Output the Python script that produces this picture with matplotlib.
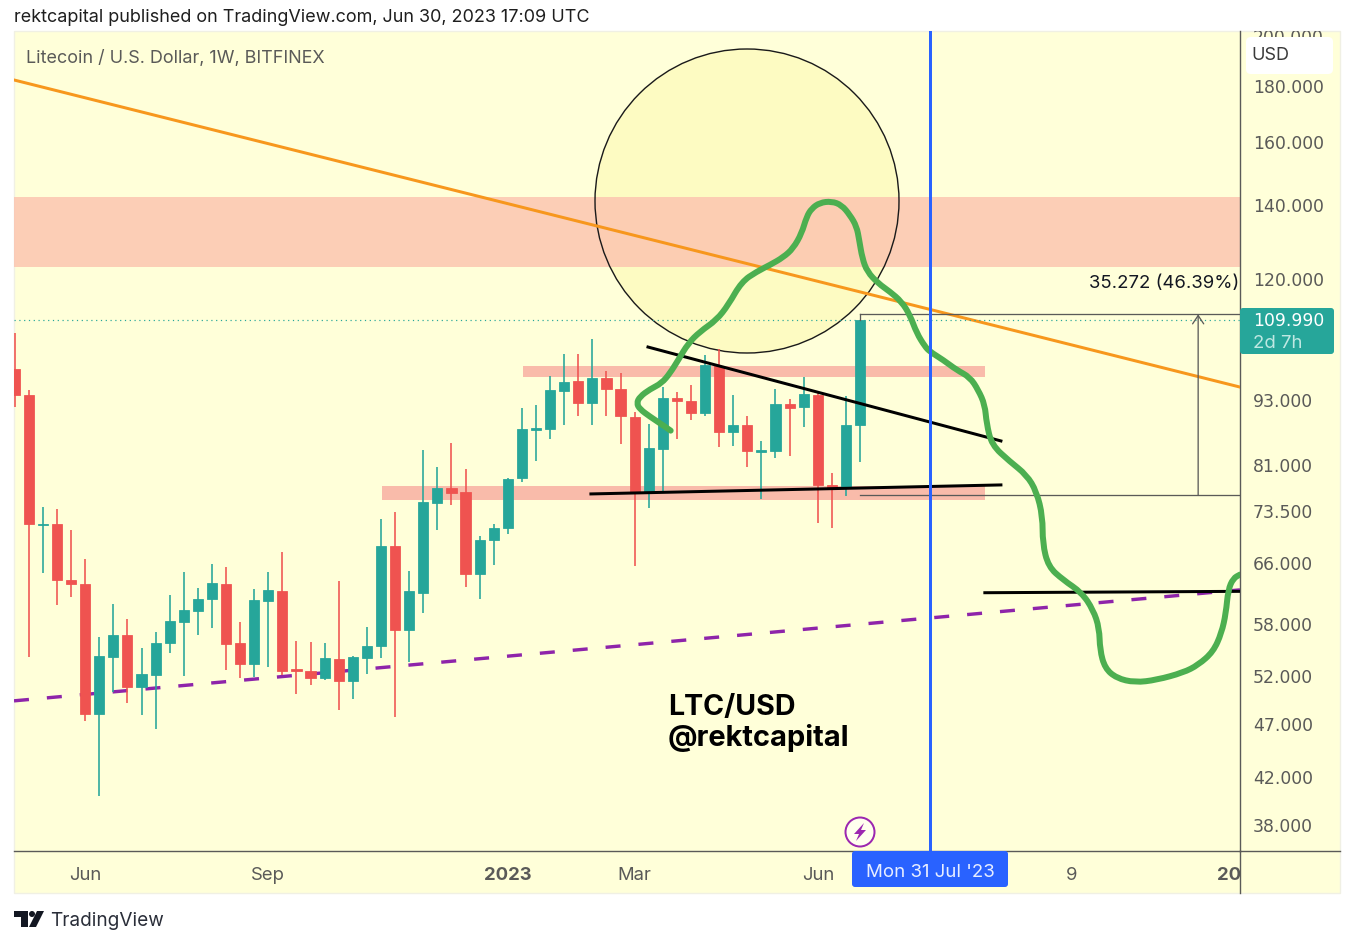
import matplotlib
matplotlib.use("Agg")
import matplotlib.pyplot as plt
from matplotlib.patches import Circle, FancyBboxPatch, PathPatch, Polygon, Rectangle
from matplotlib.path import Path
from matplotlib.ticker import NullFormatter, NullLocator
from matplotlib.transforms import Bbox

plt.rcParams['font.family'] = ['Inter', 'DejaVu Sans']

# weekly candles, index = week number on the chart
opens = [99.2, 93.9, 71.45, 71.55, 63.6, 63.1, 47.95, 54.15, 56.68, 50.8,
         52.1, 55.7, 58.28, 59.6, 61.1, 63.1, 55.7, 53.32, 60.88, 62.14,
         52.73, 52.57, 51.74, 53.9, 51.44, 54.0, 55.35, 68.35, 57.28, 61.96,
         74.88, 77.18, 76.6, 64.48, 69.18, 70.95, 78.82, 87.31, 87.44, 94.66,
         96.73, 92.42, 97.35, 95.18, 89.74, 76.48, 83.9, 93.34, 92.81, 90.38,
         99.9, 86.84, 88.19, 83.37, 83.49, 92.17, 91.53, 93.98, 77.77, 77.28,
         88.14]
highs = [107.1, 94.9, 74.25, 73.9, 70.7, 66.5, 56.4, 60.5, 58.6, 55.15,
         57.0, 61.65, 64.68, 62.57, 65.8, 65.4, 58.28, 62.4, 64.76, 67.45,
         56.0, 55.84, 55.76, 63.54, 54.2, 57.64, 72.3, 73.38, 64.85, 83.66,
         80.72, 84.9, 80.33, 69.8, 71.6, 78.82, 91.33, 91.97, 97.74, 102.4,
         102.34, 105.6, 98.79, 98.3, 90.63, 88.3, 95.58, 94.46, 95.87, 102.18,
         103.4, 93.98, 89.87, 85.26, 95.06, 93.15, 97.5, 94.58, 79.75, 93.79,
         110.0]
lows = [91.65, 54.1, 64.6, 60.37, 61.36, 47.3, 40.4, 50.3, 49.15, 47.85,
        46.47, 54.6, 51.98, 56.72, 57.52, 52.65, 51.77, 51.9, 52.95, 52.1,
        50.06, 51.0, 51.55, 48.4, 49.53, 52.18, 54.0, 47.72, 53.5, 59.33,
        70.7, 74.52, 62.67, 61.18, 65.68, 70.15, 78.2, 81.75, 85.68, 88.24,
        89.87, 88.24, 89.87, 84.78, 65.54, 74.1, 76.75, 85.62, 89.06, 89.87,
        84.25, 84.37, 80.77, 75.41, 82.32, 82.66, 87.87, 71.8, 71.04, 75.95,
        81.63]
closes = [93.9, 71.55, 71.6, 63.6, 63.07, 48.0, 54.26, 56.68, 50.83, 52.18,
          55.76, 58.37, 59.74, 61.1, 63.23, 55.6, 53.32, 60.97, 62.27, 52.57,
          52.5, 51.77, 54.0, 51.44, 54.1, 55.38, 68.35, 57.28, 62.14, 74.98,
          77.18, 76.43, 64.4, 69.22, 71.0, 78.65, 87.39, 87.62, 94.92, 96.53,
          92.42, 97.35, 95.12, 89.81, 76.48, 83.96, 93.34, 92.7, 90.5, 100.05,
          86.84, 88.19, 83.49, 83.6, 92.17, 91.4, 94.13, 77.77, 77.28, 88.14,
          109.99]

# hand drawn projection
path_week = [46.56, 45.8, 45.09, 44.38, 44.14, 44.38, 45.09, 45.92, 46.51, 47.1,
             47.81, 48.64, 49.82, 50.65, 51.6, 52.66, 53.61, 54.55, 55.26, 55.86,
             56.21, 56.57, 57.15, 57.98, 58.69, 59.28, 59.76, 59.94, 60.16, 60.51,
             61.29, 62.12, 62.95, 63.54, 64.02, 64.61, 64.96, 65.9, 66.86, 67.8,
             68.39, 68.86, 68.98, 69.34, 70.64, 71.82, 72.53, 72.96, 72.96, 73.36,
             74.42, 75.73, 76.55, 76.98, 77.03, 77.38, 78.21, 79.51, 81.05, 82.94,
             84.0, 85.07, 85.66, 85.97, 86.13, 86.49, 86.97]
path_price = [87.13, 88.5, 89.74, 91.14, 92.3, 93.6, 95.06, 96.28, 98.32, 101.11,
              104.72, 107.32, 109.99, 113.52, 119.2, 121.75, 123.5, 125.5, 127.9, 132.0,
              136.7, 139.1, 140.8, 141.2, 140.1, 137.2, 133.9, 130.16, 125.25, 121.75,
              118.8, 116.75, 114.3, 111.15, 107.0, 104.0, 102.9, 101.11, 99.0, 97.5,
              94.92, 91.98, 88.5, 84.55, 81.63, 79.37, 76.63, 72.7, 68.74, 65.44,
              63.63, 61.96, 59.74, 57.48, 54.91, 52.84, 51.74, 51.27, 51.55, 52.35,
              53.2, 54.7, 56.9, 59.33, 62.31, 63.85, 64.35]

# trend lines, (week, week), (price, price)
orange_week, orange_price = [-0.05, 86.97], [182.3, 95.5]
purple_week, purple_price = [-0.05, 86.97], [49.33, 62.31]
wedge_top_week, wedge_top_price = [44.95, 70.0], [103.9, 85.26]
wedge_low_week, wedge_low_price = [40.9, 70.0], [76.26, 77.72]
target_week, target_price = [68.86, 86.97], [61.94, 62.12]

# zones: week from, week to, price low, price high
big_zone = [-0.05, 86.97, 122.96, 142.5]
upper_zone = [36.07, 68.9, 97.5, 99.84]
lower_zone = [26.1, 68.9, 75.25, 77.55]

last_price = 109.99
measure_from, measure_to = 76.03, 111.3
measure_start, measure_end, measure_arrow = 60, 86.97, 84
cursor_week = 65

price_ticks = [200, 180, 160, 140, 120, 93, 81, 73.5, 66, 58, 52, 47, 42, 38]
price_labels = ['200.000', '180.000', '160.000', '140.000', '120.000', '93.000', '81.000',
                '73.500', '66.000', '58.000', '52.000', '47.000', '42.000', '38.000']
week_ticks = [5, 18, 35, 44, 57, 75, 86.2]
week_labels = ['Jun', 'Sep', '2023', 'Mar', 'Jun', '9', '20']

W, H = 1368, 946
BG = '#FFFFD9'
GREY = '#5A5A58'
UP = '#26A69A'
DOWN = '#EF5350'
px = 0.72

fig = plt.figure(figsize=(W / 100, H / 100), dpi=100, facecolor='white')

# panel behind the chart
back = fig.add_axes([0, 0, 1, 1], zorder=0)
back.set_xlim(0, W)
back.set_ylim(H, 0)
back.axis('off')
back.add_patch(Rectangle((14, 31), 1326, 862, fc=BG, ec='#F0F0E4', lw=1))

# overlay in pixels for the chart furniture
top = fig.add_axes([0, 0, 1, 1], zorder=5)
top.set_xlim(0, W)
top.set_ylim(H, 0)
top.axis('off')

ax = fig.add_axes([14 / W, (H - 851) / H, 1226 / W, 820 / H], zorder=1)
ax.patch.set_visible(False)
ax.set_yscale('log')
ax.set_xlim(-0.05, 86.97)
ax.set_ylim(35.96, 202.1)

# sun circle goes under the zone so the zone tints it
ax.add_patch(Circle((747, 201), 152, transform=top.transData, fc='#FDFBC2', ec='none', zorder=1))

ax.fill_between(big_zone[:2], big_zone[2], big_zone[3], color=(252 / 255, 194 / 255, 174 / 255),
                alpha=0.8, lw=0, zorder=2)
for zone in (upper_zone, lower_zone):
    ax.fill_between(zone[:2], zone[2], zone[3], color='#F9BBAA', lw=0, zorder=2)

ax.add_patch(Circle((747, 201), 152, transform=top.transData, fc='none', ec='#1A1A1A',
                    lw=1.4 * px, zorder=3))

ax.plot(orange_week, orange_price, color='#F7971D', lw=3 * px, zorder=3)
ax.plot(purple_week, purple_price, color='#8E24AA', lw=3.4 * px, dashes=(15 / 3.4, 18 / 3.4), zorder=3)

weeks = list(range(len(opens)))
colors = [UP if c >= o else DOWN for o, c in zip(opens, closes)]
ax.vlines(weeks, lows, highs, colors=colors, lw=1.6 * px, zorder=4)
ax.bar(weeks, [abs(c - o) for o, c in zip(opens, closes)], bottom=[min(o, c) for o, c in zip(opens, closes)],
       width=0.72, color=colors, edgecolor=colors, lw=0.8 * px, zorder=5)

ax.axhline(last_price, color=UP, lw=1.2 * px, ls=(0, (1, 3)), zorder=3)
ax.plot(wedge_top_week, wedge_top_price, color='black', lw=3 * px, zorder=6)
ax.plot(wedge_low_week, wedge_low_price, color='black', lw=3 * px, zorder=6)
ax.plot(target_week, target_price, color='black', lw=3 * px, zorder=6)

# price range tool
ax.plot([measure_start, measure_end], [measure_to, measure_to], color=GREY, lw=1.3 * px, zorder=6)
ax.plot([measure_start, measure_end], [measure_from, measure_from], color=GREY, lw=1.3 * px, zorder=6)
ax.plot([measure_start, measure_start], [last_price, measure_to], color=GREY, lw=1.3 * px, zorder=6)
ax.annotate('', xy=(measure_arrow, measure_to), xytext=(measure_arrow, measure_from),
            arrowprops=dict(arrowstyle='->,head_width=0.4,head_length=0.6', color=GREY, lw=1.3 * px,
                            shrinkA=0, shrinkB=0), zorder=6)
ax.text(86.93, 118.7, '35.272 (46.39%)', ha='right', va='center', fontsize=18.5 * px, color='#131722', zorder=7)

# the pen stroke: quadratic segments between the read points so it stays smooth
verts = [(path_week[0], path_price[0])]
codes = [Path.MOVETO]
for i in range(1, len(path_week) - 1):
    verts.append((path_week[i], path_price[i]))
    verts.append(((path_week[i] + path_week[i + 1]) / 2, (path_price[i] + path_price[i + 1]) / 2))
    codes += [Path.CURVE3, Path.CURVE3]
verts.append((path_week[-1], path_price[-1]))
codes.append(Path.LINETO)
ax.add_patch(PathPatch(Path(verts, codes), fc='none', ec='#4CAF50', lw=6 * px, capstyle='round',
                       joinstyle='round', zorder=7))
ax.axvline(cursor_week, color='#2962FF', lw=3 * px, zorder=8)

# axes
ax.yaxis.tick_right()
ax.set_yticks(price_ticks)
ax.set_yticklabels(price_labels, family='DejaVu Sans')
ax.yaxis.set_minor_locator(NullLocator())
ax.yaxis.set_minor_formatter(NullFormatter())
ax.set_xticks(week_ticks)
ax.set_xticklabels(week_labels)
ax.tick_params(axis='y', length=0, pad=13 * px, labelsize=17.3 * px, labelcolor=GREY)
ax.tick_params(axis='x', length=0, pad=15.5 * px, labelsize=18.5 * px, labelcolor=GREY)
for lab in ax.get_xticklabels():
    if lab.get_text() in ('2023', '20'):
        lab.set_fontweight('bold')
ax.get_yticklabels()[0].set_clip_box(Bbox.from_extents(1240, H - 893, 1340, H - 31))
ax.get_yticklabels()[0].set_clip_on(True)
for side in ('left', 'top'):
    ax.spines[side].set_visible(False)
for side in ('bottom', 'right'):
    ax.spines[side].set_color(GREY)
    ax.spines[side].set_linewidth(1.4 * px)

top.plot([1240, 1240], [851, 893], color=GREY, lw=1.4 * px)
top.plot([1240, 1340], [851, 851], color=GREY, lw=1.4 * px)

# badges
top.add_patch(FancyBboxPatch((1248, 39), 83, 33, boxstyle='round,pad=2,rounding_size=5', fc='white', ec='none'))
top.text(1251, 55, 'USD', ha='left', va='center', fontsize=18 * px, color='#3A3A3A')

top.add_patch(FancyBboxPatch((1242, 310), 90, 42, boxstyle='round,pad=2,rounding_size=3', fc=UP, ec='none'))
top.text(1253, 321, '109.990', ha='left', va='center', fontsize=17.3 * px, color='white', family='DejaVu Sans')
top.text(1253, 343, '2d 7h', ha='left', va='center', fontsize=18.5 * px, color='#BFE8E2')

top.add_patch(FancyBboxPatch((854, 853), 152, 32, boxstyle='round,pad=2,rounding_size=3', fc='#2962FF', ec='none'))
top.text(930, 872.5, "Mon 31 Jul '23", ha='center', va='center', fontsize=18.7 * px, color='#E8EEFF')

# bolt marker
top.add_patch(Circle((860, 832), 14.5, fc='#FFFFEE', ec='#9C27B0', lw=2 * px))
top.add_patch(Polygon([(864, 823), (854, 834), (859, 834), (856, 841), (866, 830), (861, 830)],
                      closed=True, fc='#9C27B0', ec='none'))

# texts
top.text(14, 18, 'rektcapital published on TradingView.com, Jun 30, 2023 17:09 UTC', ha='left', va='center',
         fontsize=18 * px, color='#1E1E1E')
top.text(26, 59, 'Litecoin / U.S. Dollar, 1W, BITFINEX', ha='left', va='center', fontsize=18 * px, color=GREY)
top.text(668, 707.5, 'LTC/USD', ha='left', va='center', fontsize=28.6 * px, fontweight='bold', color='black')
top.text(668, 737.5, '@rektcapital', ha='left', va='center', fontsize=29 * px, fontweight='bold', color='black')

# TradingView logo
top.add_patch(Polygon([(14, 911), (28, 911), (28, 927), (21, 927), (21, 917), (14, 917)], closed=True, fc='#131722', ec='none'))
top.add_patch(Circle((32, 914), 3, fc='#131722', ec='none'))
top.add_patch(Polygon([(37, 911), (44, 911), (36, 927), (29, 927)], closed=True, fc='#131722', ec='none'))
top.text(50, 921, 'TradingView', ha='left', va='center', fontsize=19 * px, color='#2A2E39')

fig.savefig('out.png', dpi=100, facecolor='white')
